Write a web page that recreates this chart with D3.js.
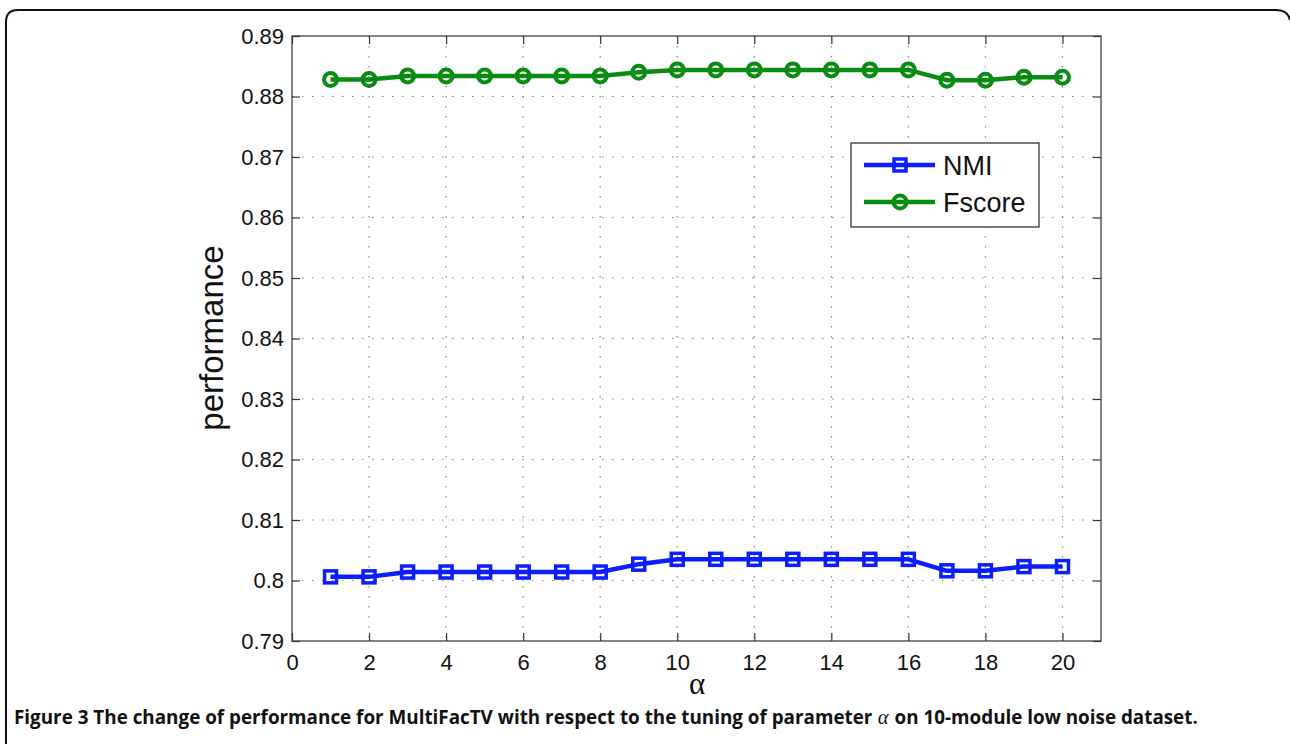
<!DOCTYPE html>
<html>
<head>
<meta charset="utf-8">
<script src="https://cdn.jsdelivr.net/npm/d3@7"></script>
<style>
  body { margin: 0; background: #fff; }
  svg { display: block; }
</style>
</head>
<body>
<svg width="1290" height="744"></svg>
<script>
// alpha values on the x axis
const alphas = [1, 2, 3, 4, 5, 6, 7, 8, 9, 10, 11, 12, 13, 14, 15, 16, 17, 18, 19, 20];

// series
const nmi = [0.8006, 0.8006, 0.8014, 0.8014, 0.8014, 0.8014, 0.8014, 0.8014, 0.8027, 0.8035,
             0.8035, 0.8035, 0.8035, 0.8035, 0.8035, 0.8035, 0.8016, 0.8016, 0.8023, 0.8023];
const fscore = [0.8828, 0.8828, 0.8834, 0.8834, 0.8834, 0.8834, 0.8834, 0.8834, 0.8840, 0.8844,
                0.8844, 0.8844, 0.8844, 0.8844, 0.8844, 0.8844, 0.8827, 0.8827, 0.8832, 0.8832];

const xTicks = [0, 2, 4, 6, 8, 10, 12, 14, 16, 18, 20];
const yTicks = [0.79, 0.80, 0.81, 0.82, 0.83, 0.84, 0.85, 0.86, 0.87, 0.88, 0.89];
const yTickLabels = ["0.79", "0.8", "0.81", "0.82", "0.83", "0.84", "0.85", "0.86", "0.87", "0.88", "0.89"];

const seriesNames = ["NMI", "Fscore"];

const svg = d3.select("svg");
const margin = { top: 36, right: 189, bottom: 103, left: 292 };
const width = +svg.attr("width") - margin.left - margin.right;
const height = +svg.attr("height") - margin.top - margin.bottom;

const colors =
{
    nmi: "#0a1eff",
    fscore: "#0a8c12",
    axis: "#333",
    grid: "#888"
};

// outer frame of the figure panel
svg.append("path")
    .attr("d", "M6,760 L6,22 Q6,10 18,10 L1276,10 Q1288,10 1290,20")
    .attr("fill", "none")
    .attr("stroke", "#111")
    .attr("stroke-width", 2);

const g = svg.append("g").attr("transform", `translate(${margin.left},${margin.top})`);

const xScale = d3.scaleLinear().domain([0, 21]).range([0, width]);
const yScale = d3.scaleLinear().domain([0.79, 0.89]).range([height, 0]);

// dotted grid
const grid = g.append("g").attr("class", "grid");
grid.selectAll("line.x")
    .data(xTicks.filter(d => d > 0))
    .join("line")
    .attr("class", "x")
    .attr("x1", d => xScale(d))
    .attr("x2", d => xScale(d))
    .attr("y1", 0)
    .attr("y2", height)
    .attr("stroke", colors.grid)
    .attr("stroke-width", 1.2)
    .attr("stroke-dasharray", "1.5,8.5");

grid.selectAll("line.y")
    .data(yTicks.filter(d => d > 0.79 && d < 0.89))
    .join("line")
    .attr("class", "y")
    .attr("x1", 0)
    .attr("x2", width)
    .attr("y1", d => yScale(d))
    .attr("y2", d => yScale(d))
    .attr("stroke", colors.grid)
    .attr("stroke-width", 1.2)
    .attr("stroke-dasharray", "1.5,8.5");

// axes, ticks pointing inside on all four sides
function styleAxis(sel, showText)
{
    sel.select(".domain").remove();
    sel.selectAll(".tick line").attr("stroke", colors.axis).attr("stroke-width", 1.2);
    sel.selectAll(".tick text")
        .attr("fill", "#111")
        .style("font-family", "'Liberation Sans', Arial, sans-serif")
        .style("font-size", "22px");
    if (!showText)
        sel.selectAll(".tick text").remove();
}

g.append("g")
    .attr("transform", `translate(0,${height})`)
    .call(d3.axisBottom(xScale).tickValues(xTicks).tickSize(-8).tickPadding(13))
    .call(s => styleAxis(s, true));

g.append("g")
    .call(d3.axisTop(xScale).tickValues(xTicks).tickSize(-8))
    .call(s => styleAxis(s, false));

g.append("g")
    .call(d3.axisLeft(yScale).tickValues(yTicks).tickSize(-8).tickPadding(8)
        .tickFormat((d, i) => yTickLabels[i]))
    .call(s => styleAxis(s, true));

g.append("g")
    .attr("transform", `translate(${width},0)`)
    .call(d3.axisRight(yScale).tickValues(yTicks).tickSize(-8))
    .call(s => styleAxis(s, false));

g.append("rect")
    .attr("width", width)
    .attr("height", height)
    .attr("fill", "none")
    .attr("stroke", colors.axis)
    .attr("stroke-width", 1.2);

// lines + markers
const line = d3.line()
    .x((d, i) => xScale(alphas[i]))
    .y(d => yScale(d));

function drawSeries(values, color, shape)
{
    g.append("path")
        .datum(values)
        .attr("d", line)
        .attr("fill", "none")
        .attr("stroke", color)
        .attr("stroke-width", 4.5)
        .attr("stroke-linejoin", "round");

    if (shape === "square")
    {
        g.selectAll(null)
            .data(values)
            .join("rect")
            .attr("x", (d, i) => xScale(alphas[i]) - 6)
            .attr("y", d => yScale(d) - 6)
            .attr("width", 12)
            .attr("height", 12)
            .attr("fill", "none")
            .attr("stroke", color)
            .attr("stroke-width", 3.5);
    }
    else
    {
        g.selectAll(null)
            .data(values)
            .join("circle")
            .attr("cx", (d, i) => xScale(alphas[i]))
            .attr("cy", d => yScale(d))
            .attr("r", 6.5)
            .attr("fill", "none")
            .attr("stroke", color)
            .attr("stroke-width", 4);
    }
}

drawSeries(nmi, colors.nmi, "square");
drawSeries(fscore, colors.fscore, "circle");

// legend
const legend = svg.append("g").attr("transform", "translate(851,143)");
legend.append("rect")
    .attr("width", 188)
    .attr("height", 84)
    .attr("fill", "#fff")
    .attr("stroke", "#222")
    .attr("stroke-width", 1.2);

const legendItems = [
    { name: seriesNames[0], color: colors.nmi, shape: "square", y: 22 },
    { name: seriesNames[1], color: colors.fscore, shape: "circle", y: 59 }
];

legendItems.forEach(item =>
{
    const row = legend.append("g").attr("transform", `translate(0,${item.y})`);
    row.append("line")
        .attr("x1", 13).attr("x2", 84)
        .attr("stroke", item.color)
        .attr("stroke-width", 4.5);
    if (item.shape === "square")
        row.append("rect")
            .attr("x", 43).attr("y", -6).attr("width", 12).attr("height", 12)
            .attr("fill", "none").attr("stroke", item.color).attr("stroke-width", 3.5);
    else
        row.append("circle")
            .attr("cx", 49).attr("r", 6.5)
            .attr("fill", "none").attr("stroke", item.color).attr("stroke-width", 4);
    row.append("text")
        .attr("x", 92)
        .attr("dy", "0.36em")
        .style("font-family", "'Liberation Sans', Arial, sans-serif")
        .style("font-size", "27px")
        .attr("fill", "#111")
        .text(item.name);
});

// axis labels
svg.append("text")
    .attr("transform", "translate(223,338) rotate(-90)")
    .attr("text-anchor", "middle")
    .style("font-family", "'Liberation Sans', Arial, sans-serif")
    .style("font-size", "33px")
    .attr("fill", "#111")
    .text("performance");

svg.append("text")
    .attr("x", 697)
    .attr("y", 694)
    .attr("text-anchor", "middle")
    .style("font-family", "'Liberation Serif', serif")
    .style("font-size", "31px")
    .attr("fill", "#111")
    .text("α");

// caption: pieces laid side by side, then squeezed horizontally
// so the sans font looks like the narrow journal font
const captionParts = [
    { text: "Figure 3 The change of performance for MultiFacTV with respect to the tuning of parameter ", serif: false },
    { text: "α", serif: true },
    { text: " on 10-module low noise dataset.", serif: false }
];

const capOuter = svg.append("g").attr("transform", "translate(14,724)");
const capInner = capOuter.append("g");
let cx = 0;
captionParts.forEach(p =>
{
    const t = capInner.append("text")
        .attr("x", cx)
        .attr("fill", "#111")
        .attr("xml:space", "preserve")
        .style("white-space", "pre")
        .style("font-family", p.serif ? "'Liberation Serif', serif" : "'Open Sans', 'Noto Sans', sans-serif")
        .style("font-style", p.serif ? "italic" : "normal")
        .style("font-weight", p.serif ? 400 : 700)
        .style("font-size", p.serif ? "22px" : "20px")
        .text(p.text);
    cx += t.node().getComputedTextLength() + (p.serif ? 1 : 0);
});
capInner.attr("transform", `scale(${(1184 / cx).toFixed(4)},1)`);
</script>
</body>
</html>
